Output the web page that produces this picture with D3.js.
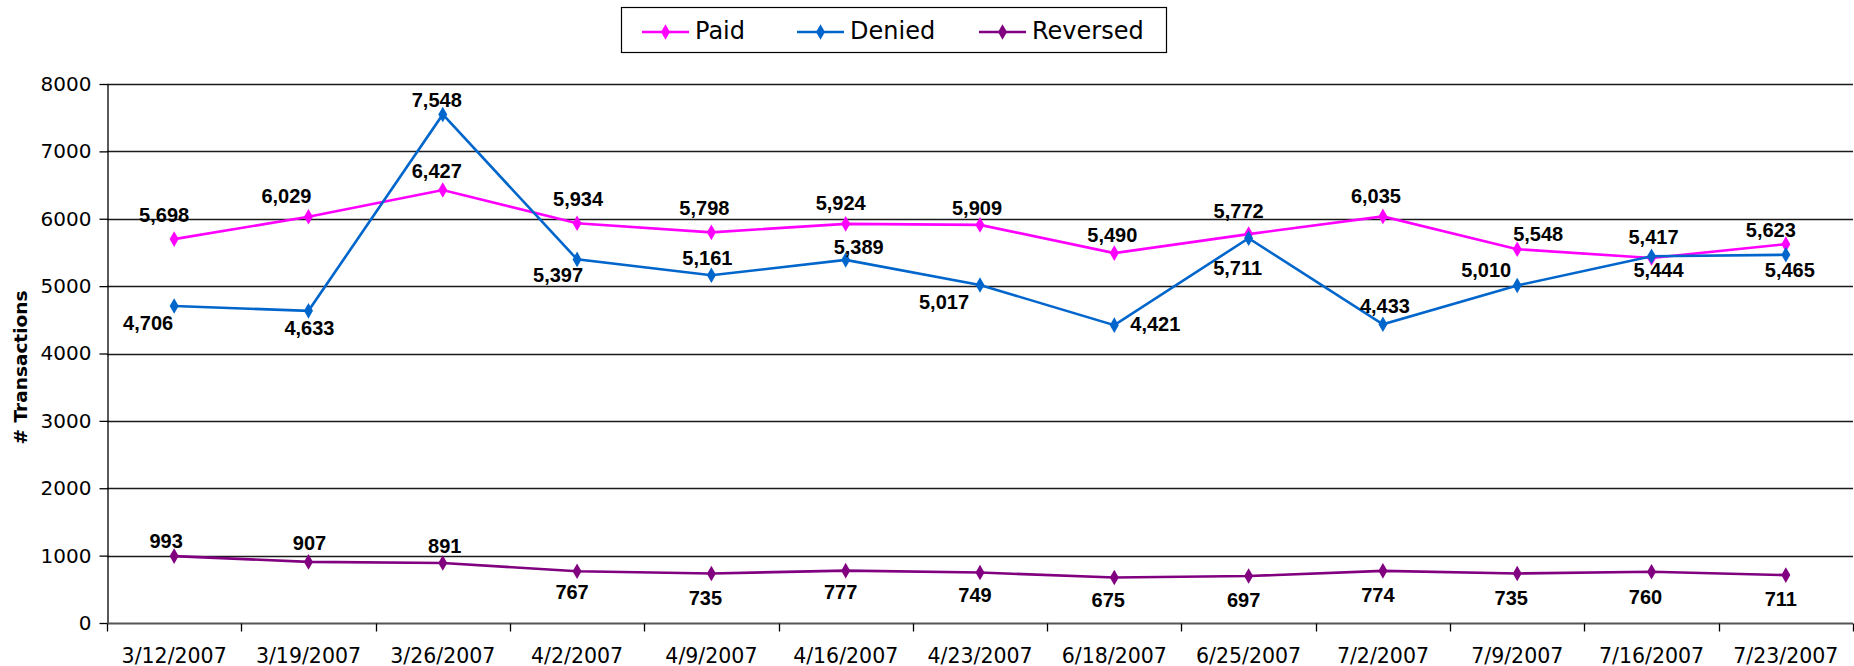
<!DOCTYPE html>
<html>
<head>
<meta charset="utf-8">
<script src="https://cdn.jsdelivr.net/npm/d3@7"></script>
<style>
  body { margin: 0; background: #fff; }
  svg { display: block; }
</style>
</head>
<body>
<div id="chart"></div>
<script>
var weeks = ['3/12/2007', '3/19/2007', '3/26/2007', '4/2/2007', '4/9/2007', '4/16/2007', '4/23/2007',
             '6/18/2007', '6/25/2007', '7/2/2007', '7/9/2007', '7/16/2007', '7/23/2007'];
var paid     = [5698, 6029, 6427, 5934, 5798, 5924, 5909, 5490, 5772, 6035, 5548, 5417, 5623];
var denied   = [4706, 4633, 7548, 5397, 5161, 5389, 5017, 4421, 5711, 4433, 5010, 5444, 5465];
var reversed = [993, 907, 891, 767, 735, 777, 749, 675, 697, 774, 735, 760, 711];
var yTicks = [0, 1000, 2000, 3000, 4000, 5000, 6000, 7000, 8000];

// where each data label sits relative to its point (px), like excel put them
var paidLabelDx     = [-10, -22, -6, 1, -7, -5, -3, -2, -10, -7, 21, 2, -15];
var paidLabelDy     = [-24, -21, -19, -24, -24, -21, -17, -18, -23, -20, -15, -21, -14];
var deniedLabelDx   = [-26, 1, -6, -19, -4, 13, -36, 41, -11, 2, -31, 7, 4];
var deniedLabelDy   = [17, 17, -14, 16, -17, -13, 17, -1, 30, -18, -15, 14, 15];
var reversedLabelDx = [-8, 1, 2, -5, -6, -5, -5, -6, -5, -5, -6, -6, -5];
var reversedLabelDy = [-15, -19, -17, 21, 25, 21, 22, 22, 24, 24, 25, 25, 24];

var series = [
	{ name: 'Paid', values: paid, color: '#ff00ff', dx: paidLabelDx, dy: paidLabelDy },
	{ name: 'Denied', values: denied, color: '#0066cc', dx: deniedLabelDx, dy: deniedLabelDy },
	{ name: 'Reversed', values: reversed, color: '#800080', dx: reversedLabelDx, dy: reversedLabelDy }
];

var width = 1854, height = 666;
var plotLeft = 107, plotRight = 1853, plotTop = 84, plotBottom = 623;

var svg = d3.select('#chart').append('svg')
	.attr('width', width).attr('height', height);

var x = d3.scaleBand().domain(weeks).range([plotLeft, plotRight]);
var y = d3.scaleLinear().domain([0, 8000]).range([plotBottom, plotTop]);
var cx = function(d) { return x(d) + x.bandwidth() / 2; };

// gridlines
svg.append('g')
	.selectAll('line')
	.data(yTicks.filter(function(d) { return d > 0; }))
	.enter().append('line')
	.attr('x1', plotLeft).attr('x2', plotRight)
	.attr('y1', function(d) { return Math.round(y(d)) + 0.5; })
	.attr('y2', function(d) { return Math.round(y(d)) + 0.5; })
	.attr('stroke', '#1a1a1a').attr('stroke-width', 1.3);

// y axis
var yAxis = svg.append('g')
	.attr('transform', 'translate(' + (plotLeft + 0.5) + ',0)')
	.call(d3.axisLeft(y).tickValues(yTicks).tickFormat(d3.format('d')).tickSize(8).tickSizeOuter(0));
yAxis.select('.domain').attr('stroke', '#000').attr('stroke-width', 1.3);
yAxis.selectAll('.tick line').attr('stroke', '#000').attr('stroke-width', 1.3);
yAxis.selectAll('.tick text')
	.attr('x', -16)
	.style('font-family', 'DejaVu Sans, Verdana, sans-serif')
	.style('font-size', '20px')
	.attr('fill', '#000');

// x axis: labels centred in bands, tick marks between them
var xAxis = svg.append('g')
	.attr('transform', 'translate(0,' + (Math.round(plotBottom) + 0.5) + ')')
	.call(d3.axisBottom(x).tickSize(0).tickPadding(0));
xAxis.select('.domain').remove();
xAxis.selectAll('.tick text')
	.attr('y', 39)
	.attr('dy', 0)
	.style('font-family', 'DejaVu Sans, Verdana, sans-serif')
	.style('font-size', '20.5px')
	.attr('fill', '#000');
xAxis.append('line')
	.attr('x1', plotLeft).attr('x2', plotRight)
	.attr('stroke', '#555').attr('stroke-width', 2);
xAxis.selectAll('.sep')
	.data(weeks.map(function(d) { return x(d); }).concat([plotRight]))
	.enter().append('line')
	.attr('class', 'sep')
	.attr('x1', function(d) { return Math.round(d) + 0.5; })
	.attr('x2', function(d) { return Math.round(d) + 0.5; })
	.attr('y1', 0).attr('y2', 8)
	.attr('stroke', '#000').attr('stroke-width', 1.3);

// y title
svg.append('text')
	.attr('transform', 'translate(20,' + ((plotTop + plotBottom) / 2 + 14) + ') rotate(-90)')
	.attr('text-anchor', 'middle')
	.attr('dominant-baseline', 'central')
	.style('font-family', 'DejaVu Sans, Verdana, sans-serif')
	.style('font-weight', 'bold')
	.style('font-size', '18.5px')
	.text('# Transactions');

var line = d3.line()
	.x(function(d, i) { return cx(weeks[i]); })
	.y(function(d) { return y(d); });

var diamond = d3.symbol().type(d3.symbolDiamond).size(70);

series.forEach(function(s) {
	var g = svg.append('g');
	g.append('path')
		.datum(s.values)
		.attr('d', line)
		.attr('fill', 'none')
		.attr('stroke', s.color)
		.attr('stroke-width', 2.6);
	g.selectAll('.mark')
		.data(s.values)
		.enter().append('path')
		.attr('class', 'mark')
		.attr('d', diamond)
		.attr('transform', function(d, i) { return 'translate(' + cx(weeks[i]) + ',' + y(d) + ')'; })
		.attr('fill', s.color);
});

series.forEach(function(s) {
	svg.append('g').selectAll('text')
		.data(s.values)
		.enter().append('text')
		.attr('x', function(d, i) { return cx(weeks[i]) + s.dx[i]; })
		.attr('y', function(d, i) { return y(d) + s.dy[i]; })
		.attr('text-anchor', 'middle')
		.attr('dominant-baseline', 'central')
		.style('font-family', 'Liberation Sans, Arial, sans-serif')
		.style('font-weight', 'bold')
		.style('font-size', '20px')
		.attr('fill', '#000')
		.text(d3.format(','));
});

// legend
var legend = svg.append('g');
legend.append('rect')
	.attr('x', 621.5).attr('y', 7.5).attr('width', 545).attr('height', 45)
	.attr('fill', '#fff').attr('stroke', '#000').attr('stroke-width', 1.2);
var legendX = [642, 797, 979];
var item = legend.selectAll('.item')
	.data(series)
	.enter().append('g')
	.attr('class', 'item')
	.attr('transform', function(d, i) { return 'translate(' + legendX[i] + ',32)'; });
item.append('line')
	.attr('x1', 0).attr('x2', 47)
	.attr('stroke', function(d) { return d.color; })
	.attr('stroke-width', 2.6);
item.append('path')
	.attr('d', diamond)
	.attr('transform', 'translate(23.5,0)')
	.attr('fill', function(d) { return d.color; });
item.append('text')
	.attr('x', 53)
	.attr('y', 7)
	.style('font-family', 'DejaVu Sans, Verdana, sans-serif')
	.style('font-size', '24px')
	.attr('fill', '#000')
	.text(function(d) { return d.name; });
</script>
</body>
</html>
